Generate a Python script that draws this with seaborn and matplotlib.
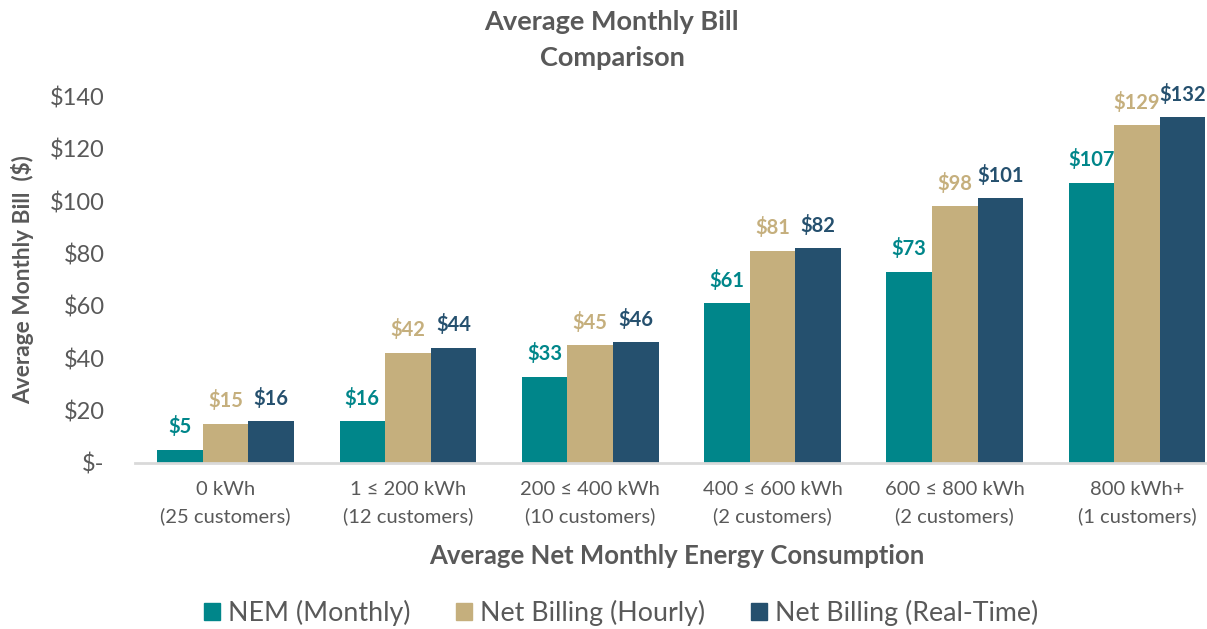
import matplotlib
matplotlib.use("Agg")
import matplotlib.pyplot as plt
import seaborn as sns
import pandas as pd

# Consumption tiers and average monthly bills per billing scheme
categories = ["0 kWh\n(25 customers)", "1 ≤ 200 kWh\n(12 customers)", "200 ≤ 400 kWh\n(10 customers)",
              "400 ≤ 600 kWh\n(2 customers)", "600 ≤ 800 kWh\n(2 customers)", "800 kWh+\n(1 customers)"]
series = ["NEM (Monthly)", "Net Billing (Hourly)", "Net Billing (Real-Time)"]
nem_monthly = [5, 16, 33, 61, 73, 107]
nb_hourly = [15, 42, 45, 81, 98, 129]
nb_realtime = [16, 44, 46, 82, 101, 132]
y_ticks = [0, 20, 40, 60, 80, 100, 120, 140]
y_tick_labels = ["$-", "$20", "$40", "$60", "$80", "$100", "$120", "$140"]

colors = ["#00868A", "#C5AF7D", "#25506E"]
text_gray = "#595959"

sns.set_theme(style="white")
plt.rcParams["font.family"] = ["Lato", "DejaVu Sans"]

df = pd.DataFrame({
    "Tier": categories * 3,
    "Scheme": [s for s in series for _ in categories],
    "Bill": nem_monthly + nb_hourly + nb_realtime,
})

W = 1207
left_px = 134.5
ax_w = 1.0 - left_px / W + 0.01
fig = plt.figure(figsize=(12.07, 6.29), dpi=100)
ax = fig.add_axes([left_px / W, 0.264, ax_w, 0.583])

sns.barplot(data=df, x="Tier", y="Bill", hue="Scheme", order=categories, hue_order=series,
            palette=colors, width=0.75, saturation=1, errorbar=None, ax=ax, legend=True)

for container, col in zip(ax.containers, colors):
    for bar in container:
        bar.set_edgecolor("none")
    ax.bar_label(container, labels=[f"${v:.0f}" for v in container.datavalues], padding=9,
                 color=col, fontsize=14.5, fontweight="bold")

ax.set_ylim(0, 140)
ax.set_xlim(-0.5, 5.45)
ax.set_yticks(y_ticks)
ax.set_yticklabels(y_tick_labels)
ax.tick_params(axis="y", length=0, pad=21.5, labelsize=17, labelcolor=text_gray)
ax.tick_params(axis="x", length=0, pad=13, labelsize=14.5, labelcolor=text_gray)
for lbl in ax.get_xticklabels():
    lbl.set_linespacing(1.65)

for side in ["top", "right", "left"]:
    ax.spines[side].set_visible(False)
ax.spines["bottom"].set_color("#D9D9D9")
ax.spines["bottom"].set_linewidth(2)
ax.grid(False)

ax.set_xlabel("Average Net Monthly Energy Consumption", fontsize=18.5, fontweight="bold",
              color=text_gray, labelpad=13)
ax.set_ylabel("Average Monthly Bill  ($)", fontsize=16.3, fontweight="bold", color=text_gray)
ax.yaxis.set_label_coords(-(left_px - 34) / (W * ax_w), 0.5)

fig.suptitle("Average Monthly Bill\nComparison", x=0.507, y=0.984, fontsize=19.5, fontweight="bold",
             color=text_gray, linespacing=1.62)

ax.get_legend().remove()
handles = [plt.Rectangle((0, 0), 1, 1, color=c) for c in colors]
fig.legend(handles, series, loc="center", bbox_to_anchor=(0.5145, 0.026), ncol=3, frameon=False,
           fontsize=19.3, labelcolor=text_gray, handlelength=0.6, handleheight=0.6,
           handletextpad=0.28, columnspacing=1.72)

fig.savefig("out.png", dpi=100)
